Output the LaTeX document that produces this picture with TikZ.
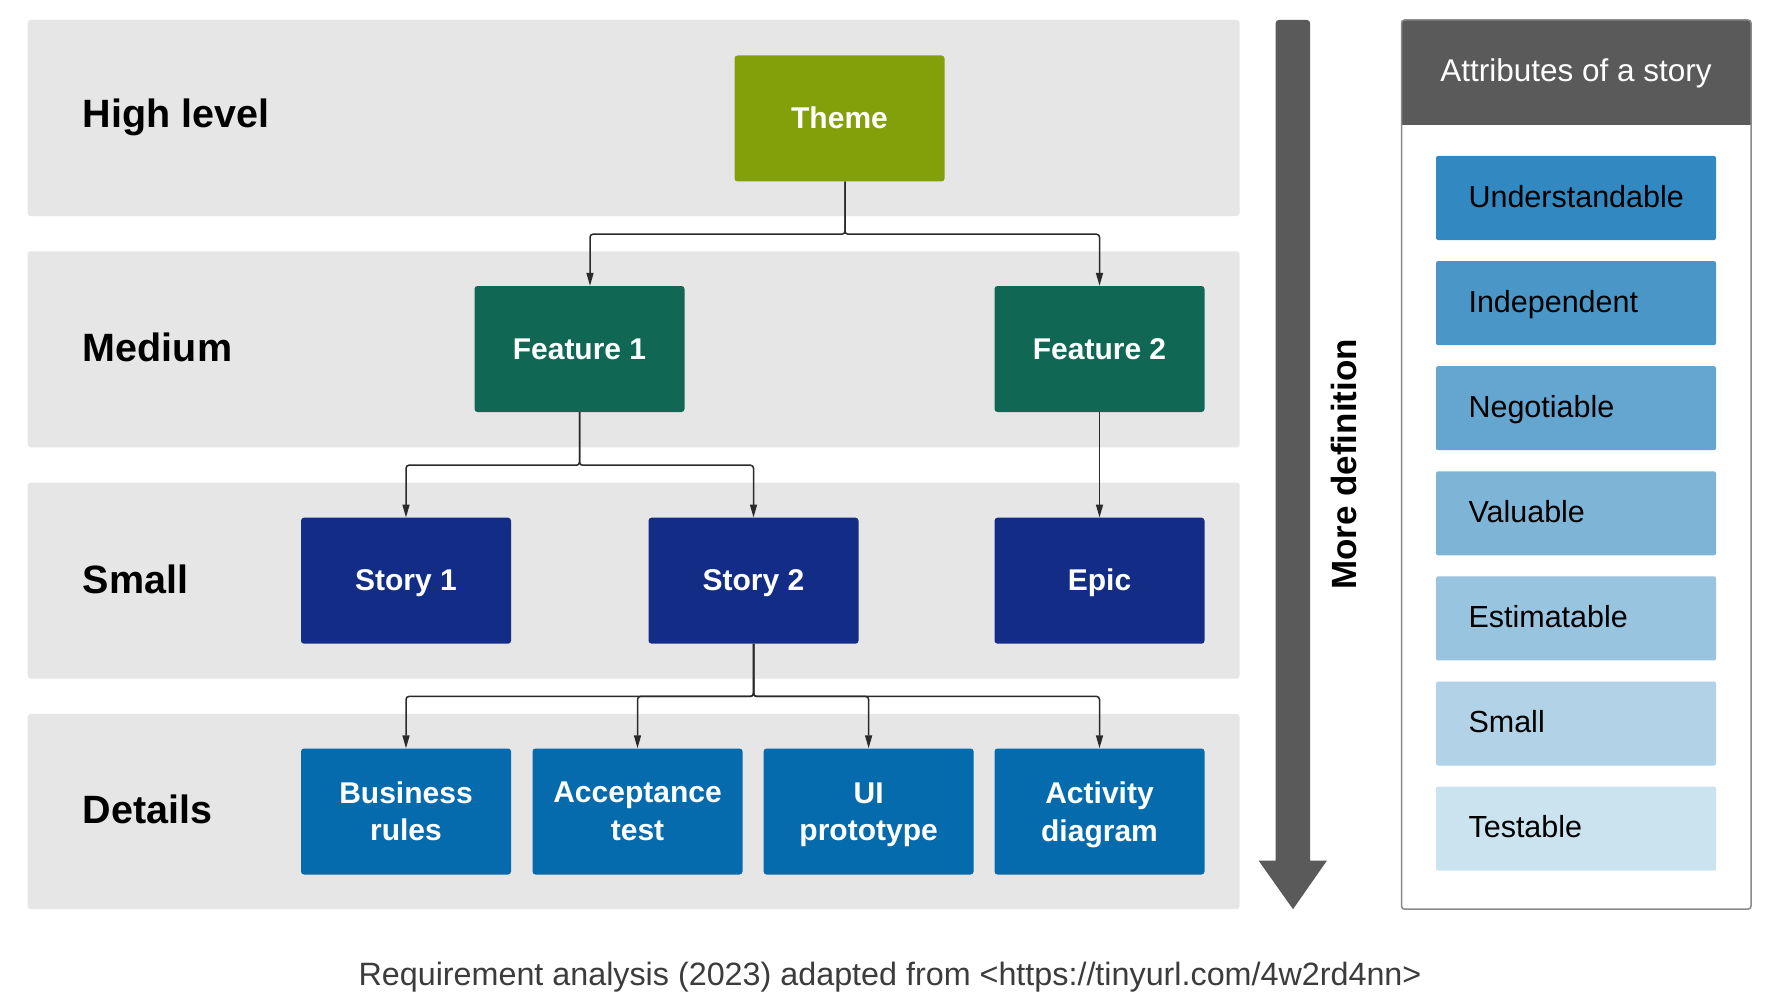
\documentclass[tikz,border=0pt]{standalone}
\usepackage{fontspec}
\setmainfont{Liberation Sans}
\usetikzlibrary{arrows.meta,calc}
\definecolor{bandgray}{HTML}{E6E6E6}
\definecolor{themegreen}{HTML}{83A00B}
\definecolor{featgreen}{HTML}{106754}
\definecolor{storyblue}{HTML}{132D86}
\definecolor{detblue}{HTML}{056BAD}
\definecolor{bargray}{HTML}{5A5A5A}
\definecolor{panelborder}{HTML}{8A8A8A}
\definecolor{attrA}{HTML}{3289C1}
\definecolor{attrB}{HTML}{4A97C7}
\definecolor{attrC}{HTML}{64A6CF}
\definecolor{attrD}{HTML}{7EB5D7}
\definecolor{attrE}{HTML}{98C4DF}
\definecolor{attrF}{HTML}{B2D3E7}
\definecolor{attrG}{HTML}{CBE2EF}
\definecolor{captiongray}{HTML}{3C3C3C}
\definecolor{linegray}{HTML}{2A2A2A}
\newcommand{\nodepth}[1]{\raisebox{0pt}[\height][0pt]{#1}}
\begin{document}
\begin{tikzpicture}[x=1pt,y=-1pt,
  band/.style={fill=bandgray, rounded corners=3pt},
  box/.style={rectangle, rounded corners=3pt, minimum width=210pt, minimum height=126pt,
    inner sep=0pt, text=white, align=center, font=\bfseries\fontsize{30}{37.5}\selectfont},
  onebox/.style={box, text height=22pt, text depth=2pt},
  lvl/.style={anchor=base west, inner sep=0pt, font=\bfseries\fontsize{39.5}{46}\selectfont},
  conn/.style={draw=linegray, line width=1.5pt, rounded corners=3pt},
  arr/.style={conn, -{Triangle[length=13pt,width=7pt]}},
  attrbox/.style={rectangle, rounded corners=2pt, minimum width=280pt, minimum height=84pt, inner sep=0pt},
  attrtext/.style={anchor=base west, inner sep=0pt, text=black, font=\fontsize{30.5}{36}\selectfont},
]
\useasboundingbox (0,0) rectangle (1771,995);
\fill[white] (0,0) rectangle (1771,995);

% bands
\fill[band] (27.6,20) rectangle (1239.6,216);
\fill[band] (27.6,251.3) rectangle (1239.6,447.3);
\fill[band] (27.6,482.6) rectangle (1239.6,678.6);
\fill[band] (27.6,713.9) rectangle (1239.6,909.2);

% level labels
\node[lvl] (lhigh) at (82.7,128) {High level};
\node[lvl] (lmed) at (82.7,361.5) {Medium};
\node[lvl] (lsmall) at (82.7,593) {Small};
\node[lvl] (ldet) at (82.7,823.5) {Details};

% boxes
\node[onebox, fill=themegreen] (theme) at (839.5,118.5) {Theme};
\node[onebox, fill=featgreen] (f1) at (579.5,349) {Feature 1};
\node[onebox, fill=featgreen] (f2) at (1099.5,349) {Feature 2};
\node[onebox, fill=storyblue] (s1) at (406,580.7) {Story 1};
\node[onebox, fill=storyblue] (s2) at (753.5,580.7) {Story 2};
\node[onebox, fill=storyblue] (epic) at (1099.5,580.7) {Epic};
\node[box, fill=detblue] (d1) at (406,811.5) {Business\\rules};
\node[box, fill=detblue] (d2) at (637.5,811.5) {Acceptance\\test};
\node[box, fill=detblue] (d3) at (868.6,811.5) {UI\\\nodepth{prototype}};
\node[box, fill=detblue] (d4) at (1099.5,811.5) {Activity\\\nodepth{diagram}};

% connectors
\coordinate (tj) at ($(theme.south)+(5.5,52.5)$);
\draw[arr] ($(theme.south)+(5.5,0)$) -- (tj) -| ($(f1.north)+(10.5,0)$);
\draw[arr] ($(theme.south)+(5.5,0)$) -- (tj) -| (f2.north);
\coordinate (fj) at ($(f1.south)+(0,53)$);
\draw[arr] (f1.south) -- (fj) -| (s1.north);
\draw[arr] (f1.south) -- (fj) -| (s2.north);
\draw[arr] (f2.south) -- (epic.north);
\coordinate (sj) at ($(s2.south)+(0,52.5)$);
\draw[arr] (s2.south) -- (sj) -| (d1.north);
\draw[arr] (s2.south) -- (sj) -| (d2.north);
\draw[arr] (s2.south) -- (sj) -| (d3.north);
\draw[arr] (s2.south) -- (sj) -| (d4.north);

% big arrow
\fill[bargray] (1275.7,860.5) -- (1275.7,23) to[out=90,in=180] (1278.7,20) -- (1307,20) to[out=0,in=90] (1310,23)
  -- (1310,860.5) -- (1327,860.5) -- (1293,909.2) -- (1258.5,860.5) -- cycle;
\node[rotate=90, inner sep=0pt, font=\bfseries\fontsize{35}{40}\selectfont] (moredef) at (1344,464.5) {More definition};

% attributes panel
\fill[bargray, rounded corners=3pt] (1401.5,20) rectangle (1751,125);
\fill[bargray] (1401.5,100) rectangle (1751,125);
\draw[panelborder, line width=1.5pt, rounded corners=3pt] (1401.5,20) rectangle (1751,909.2);
\node[anchor=base, inner sep=0pt, text=white, font=\fontsize{31.5}{36}\selectfont] (hdr) at (1576,82) {Attributes of a story};

\node[attrbox, fill=attrA] (u) at (1576,198) {};
\node[attrbox, fill=attrB] (i) at (1576,303.1) {};
\node[attrbox, fill=attrC] (n) at (1576,408.2) {};
\node[attrbox, fill=attrD] (v) at (1576,513.3) {};
\node[attrbox, fill=attrE] (e) at (1576,618.4) {};
\node[attrbox, fill=attrF] (s) at (1576,723.5) {};
\node[attrbox, fill=attrG] (t) at (1576,828.6) {};
\node[attrtext] (ut) at ($(u.west)+(32.5,9.2)$) {Understandable};
\node[attrtext] (it) at ($(i.west)+(32.5,9.2)$) {Independent};
\node[attrtext] (nt) at ($(n.west)+(32.5,9.2)$) {Negotiable};
\node[attrtext] (vt) at ($(v.west)+(32.5,9.2)$) {Valuable};
\node[attrtext] (et) at ($(e.west)+(32.5,9.2)$) {Estimatable};
\node[attrtext] (st) at ($(s.west)+(32.5,9.2)$) {Small};
\node[attrtext] (tt) at ($(t.west)+(32.5,9.2)$) {Testable};

% caption
\node[anchor=base, inner sep=0pt, text=captiongray, font=\fontsize{32.3}{38}\selectfont] (cap) at (890,985) {Requirement analysis (2023) adapted from <https://tinyurl.com/4w2rd4nn>};
\end{tikzpicture}
\end{document}
